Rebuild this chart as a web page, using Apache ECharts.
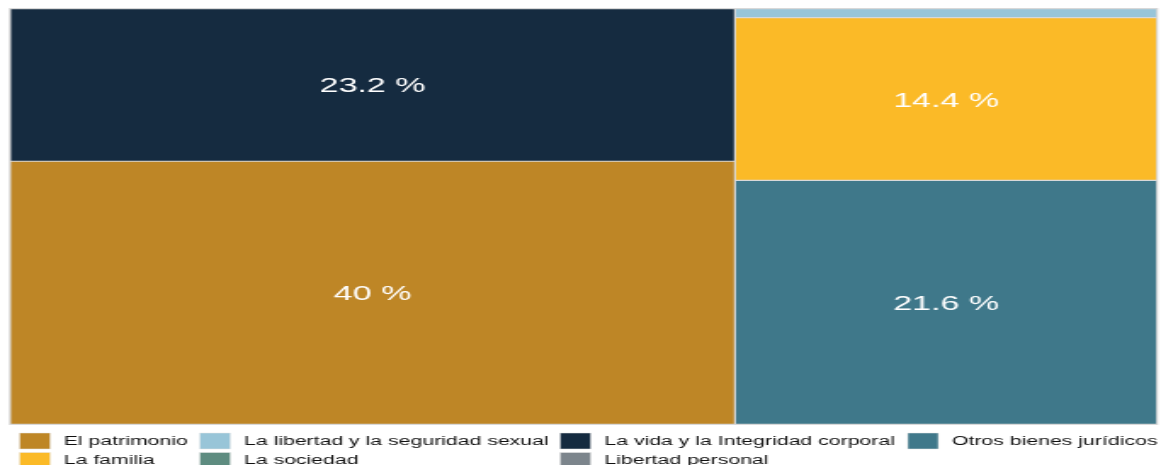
<!DOCTYPE html>
<html>
<head>
<meta charset="utf-8">
<script src="https://cdn.jsdelivr.net/npm/echarts@6/dist/echarts.min.js"></script>
<style>
  html, body { margin: 0; padding: 0; overflow: hidden; background: #fff; }
  /* the reference is a horizontally stretched image: draw narrow, then stretch */
  #main { width: 683px; height: 465px; transform-origin: 0 0; }
</style>
</head>
<body>
<div id="main"></div>
<script>
// categories in legend order (alphabetical, column-major)
const categories = [
  'El patrimonio',
  'La familia',
  'La libertad y la seguridad sexual',
  'La sociedad',
  'La vida y la Integridad corporal',
  'Libertad personal',
  'Otros bienes jurídicos'
];
const shares = [40, 14.4, 0.8, 0, 23.2, 0, 21.6];
const colors = ['#BE8626', '#FBBA27', '#98C5D8', '#5E8C80', '#152B40', '#7C858C', '#3F788A'];

// how the tiles are grouped (left column, right column)
const tileGroups = [
  ['La vida y la Integridad corporal', 'El patrimonio'],
  ['La libertad y la seguridad sexual', ['La familia', 'Otros bienes jurídicos']]
];

const stretch = 1161 / 683;
const el = document.getElementById('main');
el.style.transform = 'scaleX(' + stretch + ')';

function buildNode(item) {
  if (Array.isArray(item)) {
    return {
      name: '',
      children: item.map(buildNode),
      itemStyle: { borderWidth: 0, gapWidth: 0 }
    };
  }
  const i = categories.indexOf(item);
  return {
    name: item,
    value: shares[i],
    itemStyle: { color: colors[i] },
    label: { show: shares[i] >= 1 }
  };
}

const font = 'Liberation Sans, Arial, sans-serif';

// legend drawn as graphic elements (treemap has no legend support)
const legendColX = [11.5, 117.5, 329.5, 534];
const legendTop = 433;
const legendRowGap = 19.5;
const legend = [];
categories.forEach((name, i) => {
  const x = legendColX[Math.floor(i / 2)];
  const y = legendTop + (i % 2) * legendRowGap;
  legend.push({
    type: 'rect',
    shape: { x: x, y: y, width: 18, height: 16 },
    style: { fill: colors[i], stroke: '#e6e6e6', lineWidth: 0.5 },
    silent: true
  });
  legend.push({
    type: 'text',
    x: x + 26,
    y: y + 8.5,
    style: {
      text: name,
      fill: '#111',
      font: '12.5px ' + font,
      textVerticalAlign: 'middle',
      verticalAlign: 'middle'
    },
    silent: true
  });
});

const chart = echarts.init(el);
chart.setOption({
  animation: false,
  tooltip: { show: false },
  graphic: legend,
  series: [
    {
      type: 'treemap',
      left: 5.3,
      top: 8,
      width: 676,
      height: 417,
      sort: false,
      squareRatio: 1.3,
      roam: false,
      nodeClick: false,
      breadcrumb: { show: false },
      itemStyle: { borderWidth: 0.6, borderColor: '#d8d8d8', gapWidth: 0 },
      label: {
        show: true,
        position: 'inside',
        offset: [0, 2],
        color: '#fff',
        fontSize: 20,
        fontFamily: font,
        formatter: p => p.value + ' %'
      },
      upperLabel: { show: false },
      data: tileGroups.map(buildNode)
    }
  ]
});
</script>
</body>
</html>
